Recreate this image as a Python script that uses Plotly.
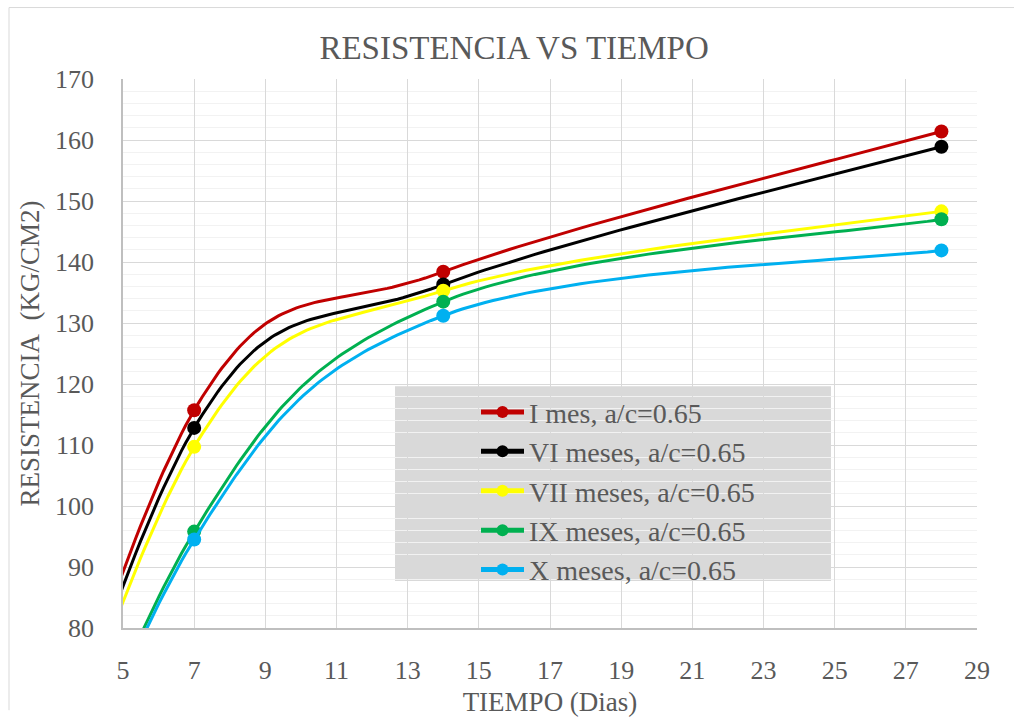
import numpy as np
import plotly.graph_objects as go

# Curing age (days) and compressive strength (kg/cm2) for each mix
dias = [0, 7, 14, 28]
series_names = [
    "I mes, a/c=0.65",
    "VI meses, a/c=0.65",
    "VII meses, a/c=0.65",
    "IX meses, a/c=0.65",
    "X meses, a/c=0.65",
]
res_i = [0, 115.7, 138.4, 161.4]
res_vi = [0, 112.8, 136.3, 158.9]
res_vii = [0, 109.7, 135.3, 148.3]
res_ix = [0, 95.8, 133.5, 147.0]
res_x = [0, 94.5, 131.2, 141.9]
colors = ["#C00000", "#000000", "#FFFF00", "#00B050", "#00B0F0"]

x_ticks = list(range(5, 30, 2))

FONT = "Times New Roman, Liberation Serif, serif"
TXT = "#595959"


def smooth_curve(xs, ys, n=60):
    """Cubic Bezier smoothing (Catmull-Rom style control points, 1/6 tension)."""
    pts = np.column_stack([xs, ys]).astype(float)
    m = len(pts)
    cx, cy, knot = [], [], []
    for i in range(m - 1):
        p0 = pts[max(i - 1, 0)]
        p1 = pts[i]
        p2 = pts[i + 1]
        p3 = pts[min(i + 2, m - 1)]
        c1 = p1 + (p2 - p0) / 6.0
        c2 = p2 - (p3 - p1) / 6.0
        t = np.linspace(0, 1, n + 1)
        if i > 0:
            t = t[1:]
        b = (np.outer((1 - t) ** 3, p1) + np.outer(3 * (1 - t) ** 2 * t, c1)
             + np.outer(3 * (1 - t) * t ** 2, c2) + np.outer(t ** 3, p2))
        cx.extend(b[:, 0])
        cy.extend(b[:, 1])
        k = np.zeros(len(t), dtype=bool)
        if i == 0:
            k[0] = True
        k[-1] = True
        knot.extend(k)
    return np.array(cx), np.array(cy), np.array(knot)


fig = go.Figure()
for name, vals, col in zip(series_names, [res_i, res_vi, res_vii, res_ix, res_x], colors):
    cx, cy, knot = smooth_curve(dias, vals)
    sizes = np.where(knot, 14, 0)
    fig.add_trace(go.Scatter(
        x=cx, y=cy, name=name, mode="lines+markers",
        line=dict(color=col, width=3),
        marker=dict(color=col, size=sizes, opacity=1, line=dict(width=0)),
        hoverinfo="skip",
    ))

L, R, T, B = 123, 37, 79, 84
W, H = 1014, 724
pw = W - L - R
ph = H - T - B


def px_x(p):
    return (p - L) / pw


def px_y(p):
    return (H - B - p) / ph


shapes = [
    # legend background panel
    dict(type="rect", xref="paper", yref="paper",
         x0=px_x(395), x1=px_x(831), y0=px_y(592), y1=px_y(393),
         fillcolor="#D9D9D9", line=dict(width=0), layer="between"),
    # chart frame (left and top edges)
    dict(type="line", xref="paper", yref="paper",
         x0=px_x(9), x1=px_x(9), y0=px_y(724), y1=px_y(6),
         line=dict(color="#D9D9D9", width=1)),
    dict(type="line", xref="paper", yref="paper",
         x0=px_x(9), x1=px_x(1014), y0=px_y(6), y1=px_y(6),
         line=dict(color="#D9D9D9", width=1)),
]

fig.update_layout(
    width=W, height=H,
    margin=dict(l=L, r=R, t=T, b=B),
    paper_bgcolor="white", plot_bgcolor="white",
    font=dict(family=FONT, color=TXT),
    title=dict(text="RESISTENCIA VS TIEMPO", x=0.507, xanchor="center",
               y=1 - 47 / H, yanchor="middle",
               font=dict(family=FONT, size=33, color=TXT)),
    showlegend=True,
    legend=dict(x=px_x(476), y=px_y(394), xanchor="left", yanchor="top",
                bgcolor="rgba(0,0,0,0)", borderwidth=0,
                font=dict(family=FONT, size=28, color=TXT),
                itemsizing="constant", itemwidth=43, tracegroupgap=0),
    shapes=shapes,
)

fig.update_xaxes(
    range=[5, 29], tickmode="array", tickvals=x_ticks,
    ticktext=[str(v) for v in x_ticks],
    showgrid=True, gridcolor="#D9D9D9", gridwidth=1,
    showline=True, linecolor="#BFBFBF", linewidth=1.5,
    zeroline=False, ticks="", ticklabelstandoff=18,
    tickfont=dict(family=FONT, size=26, color=TXT),
    title=dict(text="TIEMPO (Dias)", standoff=8,
               font=dict(family=FONT, size=27, color=TXT)),
)
fig.update_yaxes(
    range=[80, 170], dtick=10, tick0=80,
    showgrid=True, gridcolor="#D9D9D9", gridwidth=1,
    minor=dict(dtick=2, showgrid=True, gridcolor="#F2F2F2", gridwidth=1),
    showline=True, linecolor="#BFBFBF", linewidth=1.5,
    zeroline=False, ticks="", ticklabelstandoff=22,
    tickfont=dict(family=FONT, size=26, color=TXT),
    title=dict(text="RESISTENCIA\u00a0 (KG/CM2)", standoff=8,
               font=dict(family=FONT, size=27, color=TXT)),
)

fig.write_html("out.html")
